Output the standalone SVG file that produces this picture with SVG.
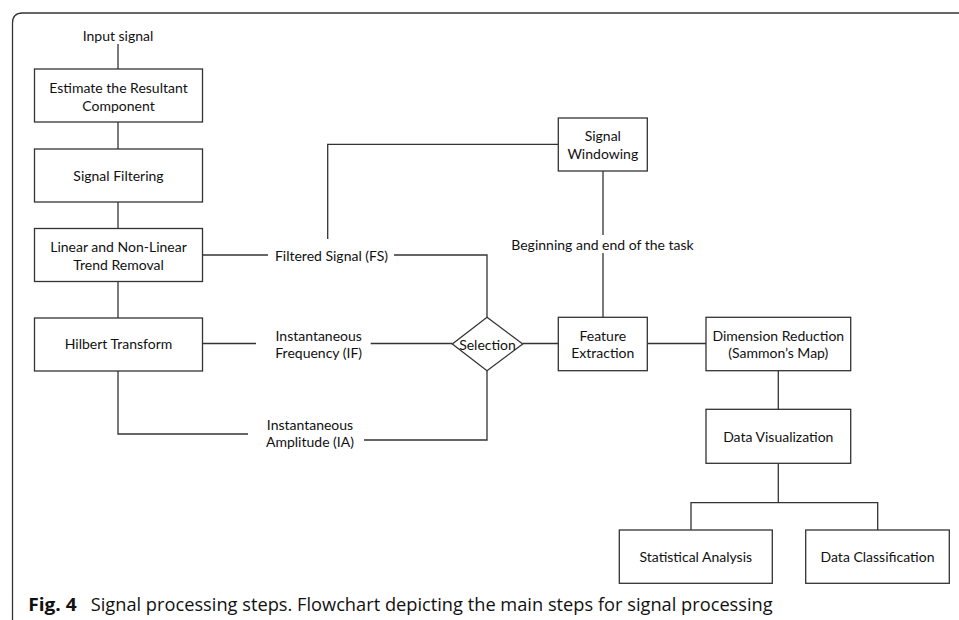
<svg xmlns="http://www.w3.org/2000/svg" width="959" height="620" viewBox="0 0 959 620">
<style>
.box{fill:#fff;stroke:#333;stroke-width:1.3}
.ln{fill:none;stroke:#333;stroke-width:1.3}
.t{font-family:Lato,"Liberation Sans",sans-serif;font-size:14px;fill:#111;text-anchor:middle;dominant-baseline:central}
.cap{font-family:"Open Sans","Noto Sans",sans-serif;font-size:18px;fill:#111}
</style>
<rect width="959" height="620" fill="#fff"/>
<path class="ln" d="M12.5,620 V23 Q12.5,13 22.5,13 H959" stroke-width="1.5"/>
<g id="connectors">
<path class="ln" d="M118,44 V69"/>
<path class="ln" d="M118,122 V149"/>
<path class="ln" d="M118,202 V228"/>
<path class="ln" d="M118,282 V318"/>
<path class="ln" d="M118,371 V434 H248"/>
<path class="ln" d="M202.5,255 H268"/>
<path class="ln" d="M394,255 H487 V317.3"/>
<path class="ln" d="M327.7,239 V144.3 H558.3"/>
<path class="ln" d="M202.5,343.5 H256"/>
<path class="ln" d="M370.7,343.5 H452.3"/>
<path class="ln" d="M487,370.7 V440 H364"/>
<path class="ln" d="M522.7,343.5 H558.3"/>
<path class="ln" d="M603,171 V235"/>
<path class="ln" d="M603,253 V317.3"/>
<path class="ln" d="M647.3,343.5 H706"/>
<path class="ln" d="M778.3,370.7 V409.3"/>
<path class="ln" d="M778.3,463.3 V502.7"/>
<path class="ln" d="M691,530 V502.7 H877.7 V530"/>
</g>
<text class="t" x="118" y="35">Input signal</text>
<g id="n-estimate">
<rect class="box" x="34.5" y="69" width="168" height="53"/>
<text class="t" x="118.5" y="87.5">Estimate the Resultant</text>
<text class="t" x="118.5" y="105.5">Component</text>
</g>
<g id="n-filtering">
<rect class="box" x="34.5" y="149" width="168" height="53"/>
<text class="t" x="118.5" y="175.5">Signal Filtering</text>
</g>
<g id="n-trend">
<rect class="box" x="34.5" y="228.5" width="168" height="53"/>
<text class="t" x="118.5" y="246.5">Linear and Non-Linear</text>
<text class="t" x="118.5" y="264.3">Trend Removal</text>
</g>
<g id="n-hilbert">
<rect class="box" x="34.5" y="318" width="168" height="53"/>
<text class="t" x="118.5" y="343.5">Hilbert Transform</text>
</g>
<g id="l-fs">
<text class="t" x="331.5" y="255">Filtered Signal (FS)</text>
</g>
<g id="l-if">
<text class="t" x="318.7" y="335">Instantaneous</text>
<text class="t" x="318.7" y="352.7">Frequency (IF)</text>
</g>
<g id="l-ia">
<text class="t" x="310" y="424">Instantaneous</text>
<text class="t" x="310" y="441.7">Amplitude (IA)</text>
</g>
<g id="n-selection">
<polygon class="box" points="487,317.3 522.7,344 487,370.7 452.3,344"/>
<text class="t" x="487.5" y="344">Selection</text>
</g>
<g id="n-windowing">
<rect class="box" x="558.3" y="118" width="89" height="53"/>
<text class="t" x="602.8" y="135">Signal</text>
<text class="t" x="602.8" y="153.3">Windowing</text>
</g>
<g id="l-task">
<text class="t" x="602.5" y="244.3">Beginning and end of the task</text>
</g>
<g id="n-feature">
<rect class="box" x="558.3" y="317.3" width="89" height="53.4"/>
<text class="t" x="602.8" y="335">Feature</text>
<text class="t" x="602.8" y="352.7">Extraction</text>
</g>
<g id="n-dimension">
<rect class="box" x="706" y="317.3" width="144.7" height="53.4"/>
<text class="t" x="778.3" y="335">Dimension Reduction</text>
<text class="t" x="778.3" y="352.7">(Sammon’s Map)</text>
</g>
<g id="n-visualization">
<rect class="box" x="706" y="409.3" width="144.7" height="54"/>
<text class="t" x="778.3" y="436">Data Visualization</text>
</g>
<g id="n-statistical">
<rect class="box" x="619.3" y="530" width="153" height="53.3"/>
<text class="t" x="695.8" y="556.7">Statistical Analysis</text>
</g>
<g id="n-classification">
<rect class="box" x="805.7" y="530" width="143.6" height="53.3"/>
<text class="t" x="877.5" y="556.7">Data Classification</text>
</g>
<text class="cap" x="28.3" y="611" font-weight="bold" textLength="48.4" lengthAdjust="spacingAndGlyphs">Fig. 4</text>
<text class="cap" x="90.7" y="611" textLength="682" lengthAdjust="spacingAndGlyphs">Signal processing steps. Flowchart depicting the main steps for signal processing</text>
</svg>
